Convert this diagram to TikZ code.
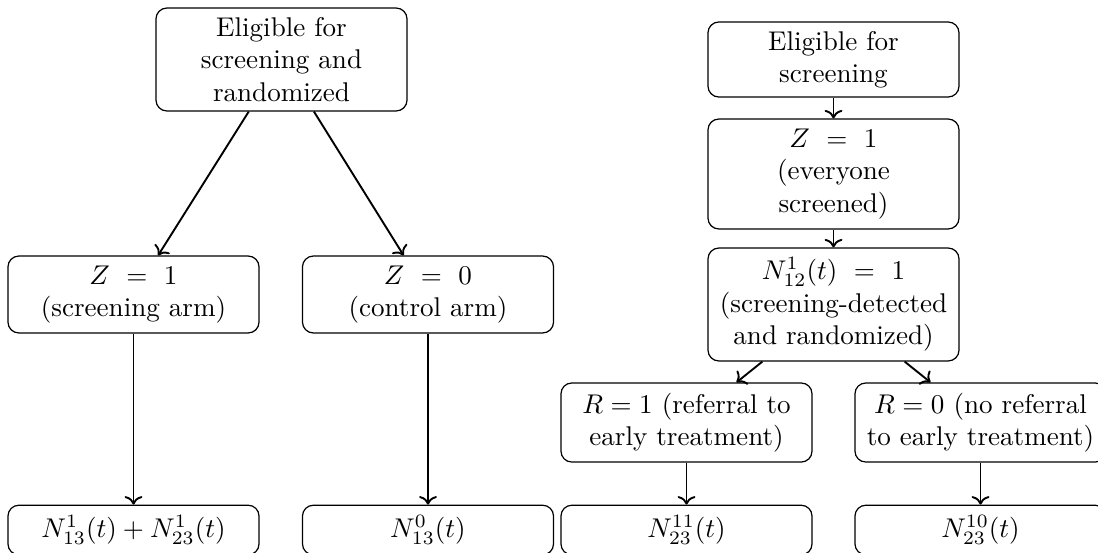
\documentclass[tikz,border=0pt]{standalone}
\usetikzlibrary{arrows.meta}
\tikzset{
  box/.style={draw, rounded corners=4pt, align=center, inner sep=0pt,
    minimum width=92.7pt, line width=0.45pt},
  conn/.style={->, line width=0.7pt}
}
\begin{document}
\begin{tikzpicture}[x=0.36928pt, y=-0.36928pt]
\clip (0,0) rectangle (1098,552);
% left tree
\node[box, minimum height=38pt] (A) at (281.5,59.5) {Eligible for\\screening and\\randomized};
\node[box, minimum height=28.4pt] (B) at (133.5,294.5) {$Z\ =\ 1$\\(screening arm)};
\node[box, minimum height=28.4pt] (C) at (428,294.5) {$Z\ =\ 0$\\(control arm)};
\node[box, minimum height=18.3pt] (D) at (133.5,530) {$N^1_{13}(t) + N^1_{23}(t)$};
\node[box, minimum height=18.3pt] (E) at (428,530) {$N^0_{13}(t)$};
% right tree
\node[box, minimum height=27.7pt] (F) at (833.5,59.5) {Eligible for\\screening};
\node[box, minimum height=40.6pt] (G) at (833.5,174) {$Z\ =\ 1$\\(everyone\\screened)};
\node[box, minimum height=41.7pt] (H) at (833.5,304.5) {$N^1_{12}(t)\ =\ 1$\\(screening-detected\\and randomized)};
\node[box, minimum height=29.2pt] (I) at (686.5,422.5) {$R = 1$ (referral to\\early treatment)};
\node[box, minimum height=29.2pt] (J) at (980.5,422.5) {$R = 0$ (no referral\\to early treatment)};
\node[box, minimum height=18.3pt] (K) at (686.5,530) {$N^{11}_{23}(t)$};
\node[box, minimum height=18.3pt] (L) at (980.5,530) {$N^{10}_{23}(t)$};
% connectors
\draw[conn] (A) -- (B);
\draw[conn] (A) -- (C);
\draw[conn] (B) -- (D);
\draw[conn] (C) -- (E);
\draw[conn] (F) -- (G);
\draw[conn] (G) -- (H);
\draw[conn] (H) -- (I);
\draw[conn] (H) -- (J);
\draw[conn] (I) -- (K);
\draw[conn] (J) -- (L);
\end{tikzpicture}
\end{document}
